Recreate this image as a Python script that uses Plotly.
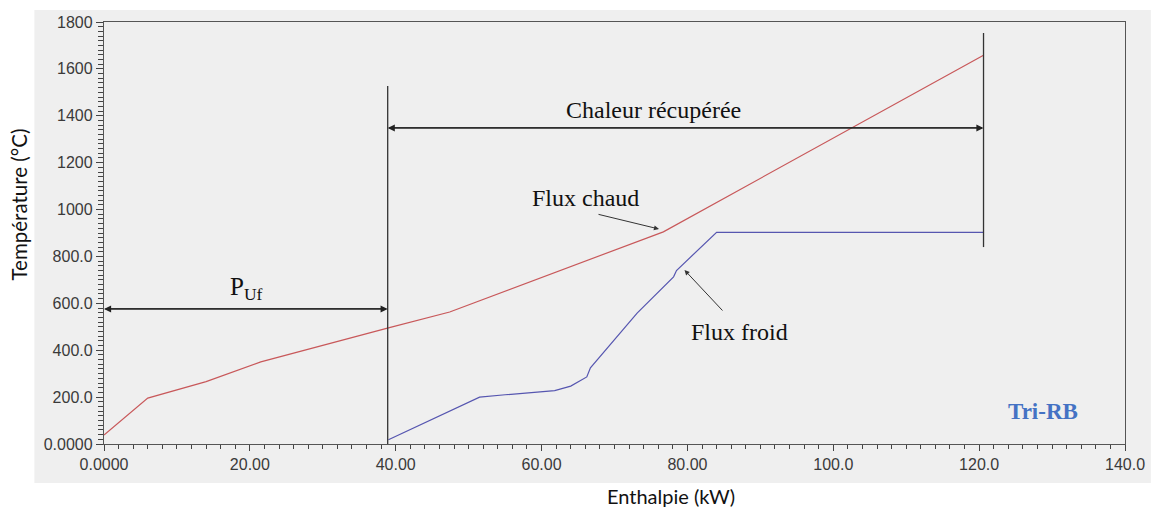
import plotly.graph_objects as go

# Hot and cold composite curves (enthalpy in kW, temperature in °C)
hot_h = [0.0, 6.0, 14.0, 21.5, 39.0, 47.4, 76.7, 120.6]
hot_t = [38, 196, 266, 350, 495, 563, 905, 1658]

cold_h = [39.0, 51.5, 55.0, 61.8, 64.0, 66.2, 66.7, 73.1, 78.1, 78.5, 84.0, 120.6]
cold_t = [18, 200, 210, 228, 247, 286, 325, 558, 713, 740, 903, 903]

# Heat-recovery bounds and dimension lines
pinch_h = 38.9
end_h = 120.6
pinch_line_t = [0, 1527]
end_line_t = [840, 1753]
recovered_arrow_t = 1348
puf_arrow_t = 576

x_ticks = [0, 20, 40, 60, 80, 100, 120, 140]
x_ticktext = ["0.0000", "20.00", "40.00", "60.00", "80.00", "100.0", "120.0", "140.0"]
y_ticks = [0, 200, 400, 600, 800, 1000, 1200, 1400, 1600, 1800]
y_ticktext = ["0.0000", "200.0", "400.0", "600.0", "800.0", "1000", "1200", "1400", "1600", "1800"]

fig = go.Figure()

fig.add_trace(go.Scatter(x=hot_h, y=hot_t, mode="lines",
                         line=dict(color="#c8585a", width=1.2), hoverinfo="skip"))
fig.add_trace(go.Scatter(x=cold_h, y=cold_t, mode="lines",
                         line=dict(color="#5656b0", width=1.2), hoverinfo="skip"))

# vertical bound lines
fig.add_trace(go.Scatter(x=[pinch_h, pinch_h], y=pinch_line_t, mode="lines",
                         line=dict(color="#333333", width=1.3), hoverinfo="skip"))
fig.add_trace(go.Scatter(x=[end_h, end_h], y=end_line_t, mode="lines",
                         line=dict(color="#333333", width=1.3), hoverinfo="skip"))

serif = "Liberation Serif, Times New Roman, serif"
sans = "Lato, Open Sans, sans-serif"
annotations = []


def double_arrow(x0, x1, y):
    # two full-length arrows pointing opposite ways
    for tail, head in ((x0, x1), (x1, x0)):
        annotations.append(dict(x=head, y=y, ax=tail, ay=y, xref="x", yref="y",
                                axref="x", ayref="y", showarrow=True, arrowhead=2,
                                arrowsize=1.1, arrowwidth=1.3, arrowcolor="#222222",
                                text=""))


double_arrow(0.0, pinch_h, puf_arrow_t)
double_arrow(pinch_h, end_h, recovered_arrow_t)

annotations += [
    dict(x=75.4, y=1425, xref="x", yref="y", text="Chaleur récupérée", showarrow=False,
         font=dict(family=serif, size=24, color="#111111")),
    dict(x=19.5, y=665, xref="x", yref="y", text="P<sub>Uf</sub>", showarrow=False,
         font=dict(family=serif, size=25, color="#111111")),
    dict(x=66.0, y=1050, xref="x", yref="y", text="Flux chaud", showarrow=False,
         font=dict(family=serif, size=24, color="#111111")),
    dict(x=76.1, y=917, ax=67.6, ay=981, xref="x", yref="y", axref="x", ayref="y",
         showarrow=True, arrowhead=2, arrowsize=1, arrowwidth=1, arrowcolor="#333333", text=""),
    dict(x=87.1, y=478, xref="x", yref="y", text="Flux froid", showarrow=False,
         font=dict(family=serif, size=24, color="#111111")),
    dict(x=79.6, y=742, ax=85.0, ay=563, xref="x", yref="y", axref="x", ayref="y",
         showarrow=True, arrowhead=2, arrowsize=1, arrowwidth=1, arrowcolor="#333333", text=""),
    dict(x=128.7, y=137, xref="x", yref="y", text="<b>Tri-RB</b>", showarrow=False,
         font=dict(family=serif, size=23, color="#4472c4")),
    # axis titles (positions given in pixels, converted below)
    dict(x=18, y=205, xref="paper", yref="paper", text="Température (°C)", showarrow=False,
         xanchor="center", yanchor="middle",
         textangle=-90, font=dict(family=sans, size=20.5, color="#111111")),
    dict(x=674, y=496, xref="paper", yref="paper", text="Enthalpie (kW)", showarrow=False,
         xanchor="center", yanchor="middle",
         font=dict(family=sans, size=20, color="#111111")),
]

L, R, T, B = 104, 1131, 22, 444
for a in annotations[-2:]:
    a["x"] = (a["x"] - L) / (R - L)
    a["y"] = (B - a["y"]) / (B - T)

tick_font = dict(family="Liberation Sans, Arial, sans-serif", size=16, color="#3a3a3a")

axis_common = dict(showgrid=False, zeroline=False, showline=True, linecolor="#555555",
                   linewidth=1.3, mirror=True, ticks="outside", tickcolor="#444444",
                   tickwidth=1.2, tickfont=tick_font)

fig.update_layout(
    width=1157, height=510,
    margin=dict(l=L, r=1157 - R, t=T, b=510 - B),
    paper_bgcolor="white", plot_bgcolor="#efefef",
    showlegend=False,
    annotations=annotations,
    shapes=[dict(type="rect", xref="paper", yref="paper", layer="below",
                 x0=(34 - L) / (R - L), x1=(1157 - L) / (R - L),
                 y0=(B - 483) / (B - T), y1=(B - 10) / (B - T),
                 fillcolor="#efefef", line=dict(width=0))],
    xaxis=dict(range=[0, 140], tickvals=x_ticks, ticktext=x_ticktext, ticklen=6,
               minor=dict(tickmode="linear", tick0=0, dtick=2, ticklen=4, ticks="outside",
                          tickcolor="#444444", tickwidth=1),
               **axis_common),
    yaxis=dict(range=[0, 1800], tickvals=y_ticks, ticktext=y_ticktext, ticklen=7,
               minor=dict(tickmode="linear", tick0=0, dtick=20, ticklen=5, ticks="outside",
                          tickcolor="#444444", tickwidth=1),
               **axis_common),
)

fig.write_html("out.html")
